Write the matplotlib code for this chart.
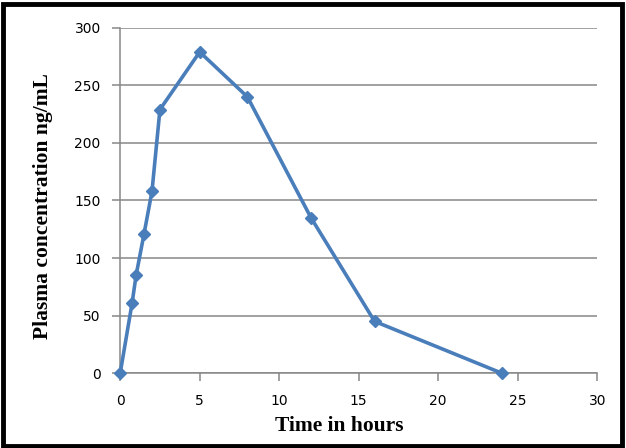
import matplotlib
matplotlib.use("Agg")
import matplotlib.pyplot as plt
from matplotlib.patches import Rectangle

time_h = [0, 0.75, 1, 1.5, 2, 2.5, 5, 8, 12, 16, 24]
conc = [0, 61, 85, 121, 158, 229, 279, 240, 135, 45, 0]
x_ticks = [0, 5, 10, 15, 20, 25, 30]
y_ticks = [0, 50, 100, 150, 200, 250, 300]

fig = plt.figure(figsize=(6.26, 4.48), dpi=100)
ax = fig.add_axes([0.192, 0.167, 0.762, 0.771])

ax.plot(time_h, conc, color='#4A7EBB', linewidth=2.6, marker='D', markersize=6,
        markerfacecolor='#4A7EBB', markeredgecolor='#4A7EBB', zorder=3, clip_on=False)

ax.set_xlim(0, 30)
ax.set_ylim(0, 300)
ax.set_xticks(x_ticks)
ax.set_yticks(y_ticks)
ax.yaxis.grid(True, color='#878787', linewidth=1.1)
ax.set_axisbelow(True)
for s in ['top', 'right']:
    ax.spines[s].set_visible(False)
for s in ['left', 'bottom']:
    ax.spines[s].set_color('#878787')
    ax.spines[s].set_linewidth(1.1)
ax.tick_params(axis='both', colors='#878787', length=6, width=1.1, direction='out',
               labelcolor='black', labelsize=10)
ax.tick_params(axis='x', pad=9)
ax.tick_params(axis='y', pad=8)

ax.set_xlabel('Time in hours', fontfamily='Liberation Serif', fontweight='bold', fontsize=15.5)
ax.set_ylabel('Plasma concentration ng/mL', fontfamily='Liberation Serif', fontweight='bold', fontsize=15.5)
ax.xaxis.set_label_coords(0.459, -0.125)
ax.yaxis.set_label_coords(-0.14, 0.484)

fig.patches.append(Rectangle((0.004, 0.005), 0.990, 0.985, transform=fig.transFigure,
                             fill=False, edgecolor='black', linewidth=3.5))

fig.savefig('out.png', dpi=100)
